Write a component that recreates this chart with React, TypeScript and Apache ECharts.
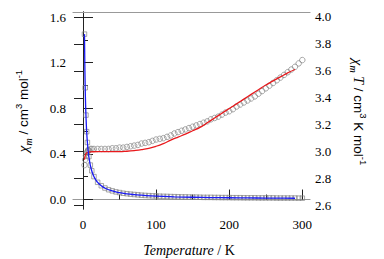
import React, { useEffect, useRef } from "react";
import * as echarts from "echarts";

// Measured temperatures (K)
const tempPts = [2, 3, 4, 5, 6, 7, 8, 10, 12, 15,
  20, 25, 30, 35, 40, 45, 50, 55, 60, 65,
  70, 75, 80, 85, 90, 95, 100, 105, 110, 115,
  120, 125, 130, 135, 140, 145, 150, 155, 160, 165,
  170, 175, 180, 185, 190, 195, 200, 205, 210, 215,
  220, 225, 230, 235, 240, 245, 250, 255, 260, 265,
  270, 275, 280, 285, 290, 295, 300];

// chi_m (cm3 mol-1), squares, left axis
const chiM = [1.45, 0.98, 0.74, 0.595, 0.5, 0.43, 0.376, 0.302, 0.252, 0.201,
  0.151, 0.121, 0.101, 0.086, 0.076, 0.067, 0.061, 0.055, 0.051, 0.047,
  0.044, 0.041, 0.038, 0.036, 0.034, 0.032, 0.031, 0.029, 0.028, 0.027,
  0.026, 0.025, 0.024, 0.023, 0.023, 0.022, 0.021, 0.021, 0.02, 0.019,
  0.019, 0.019, 0.018, 0.018, 0.017, 0.017, 0.017, 0.016, 0.016, 0.016,
  0.015, 0.015, 0.015, 0.015, 0.014, 0.014, 0.014, 0.014, 0.014, 0.013,
  0.013, 0.013, 0.013, 0.013, 0.013, 0.012, 0.012];

// chi_m T (cm3 K mol-1), circles, right axis
const chiMT = [2.9, 2.94, 2.97, 2.99, 3.0, 3.01, 3.01, 3.02, 3.02, 3.02,
  3.02, 3.02, 3.02, 3.02, 3.025, 3.025, 3.03, 3.03, 3.035, 3.04,
  3.045, 3.05, 3.06, 3.065, 3.07, 3.08, 3.09, 3.095, 3.1, 3.11,
  3.12, 3.135, 3.145, 3.155, 3.165, 3.175, 3.185, 3.195, 3.205, 3.215,
  3.225, 3.24, 3.25, 3.26, 3.275, 3.29, 3.3, 3.315, 3.335, 3.35,
  3.365, 3.38, 3.395, 3.41, 3.43, 3.45, 3.47, 3.49, 3.51, 3.53,
  3.55, 3.57, 3.59, 3.61, 3.63, 3.655, 3.68];

// Fit of chi_m (blue line)
const fitChiT = [2, 2.5, 3, 3.5, 4, 5, 6, 7, 8, 9, 10, 12, 14, 16, 18, 20, 25, 30, 40, 50,
  60, 70, 80, 100, 125, 150, 175, 200, 225, 250, 275, 290];
const fitChi = [1.45, 1.17, 0.98, 0.84, 0.74, 0.595, 0.5, 0.43, 0.375, 0.335, 0.3, 0.25, 0.215,
  0.188, 0.167, 0.15, 0.12, 0.1, 0.075, 0.06, 0.05, 0.043, 0.038, 0.03, 0.024, 0.02, 0.0175,
  0.0155, 0.014, 0.0128, 0.0118, 0.0113];

// Fit of chi_m T (red line)
const fitChiMTT = [2, 3, 4, 5, 6, 8, 10, 20, 30, 40, 50, 60, 70, 80, 90, 100, 110, 120, 130, 140,
  150, 160, 170, 180, 190, 200, 210, 220, 230, 240, 250, 260, 270, 280, 290];
const fitChiMT = [2.94, 2.97, 2.985, 2.99, 2.995, 2.997, 2.998, 3.0, 3.0, 3.0, 3.0, 3.003, 3.008,
  3.015, 3.025, 3.04, 3.06, 3.085, 3.108, 3.13, 3.155, 3.18, 3.215, 3.25, 3.285, 3.32, 3.355,
  3.39, 3.425, 3.46, 3.495, 3.525, 3.555, 3.585, 3.61];

const xMajor = [0, 100, 200, 300];
const xMinor = [50, 150, 250];
const yLeftMajor = [0, 0.4, 0.8, 1.2, 1.6];
const yLeftMinor = [0.2, 0.6, 1.0, 1.4];
const yRightTicks = [2.6, 2.8, 3.0, 3.2, 3.4, 3.6, 3.8, 4.0];

const SERIF = "Liberation Serif";
const SANS = "Liberation Sans";
const DARK = "#222";
const FRAME = "#999";
const MARK = "#858585";

const X_MIN = -13.7, X_MAX = 310.5;
const L_MIN = -0.083, L_MAX = 1.644;
const R_MIN = 2.574, R_MAX = 4.037;

export default function App() {
  const ref = useRef<HTMLDivElement>(null);
  useEffect(() => {
    if (!ref.current) return;
    const chart = echarts.init(ref.current, undefined, { renderer: "svg" });
    const zip = (a: number[], b: number[]) => a.map((v, i) => [v, b[i]]);
    const labelStyle = { color: "#000", fontFamily: SERIF, fontSize: 13 };
    const titleRich = {
      g: { fontFamily: SERIF, fontSize: 15, fontStyle: "italic", color: "#000" },
      sub: { fontFamily: SERIF, fontSize: 10, fontStyle: "italic", verticalAlign: "bottom", color: "#000" },
      it: { fontFamily: SERIF, fontSize: 14, fontStyle: "italic", color: "#000" },
      n: { fontFamily: SANS, fontSize: 13.5, color: "#000" },
      sup: { fontFamily: SANS, fontSize: 9.5, verticalAlign: "top", color: "#000" },
    };
    chart.setOption({
      animation: false,
      textStyle: { fontFamily: SERIF },
      grid: { left: 73, top: 12, right: 74, bottom: 50, containLabel: false },
      xAxis: [
        {
          type: "value", min: X_MIN, max: X_MAX, position: "bottom",
          axisLine: { show: true, lineStyle: { color: FRAME, width: 1.2 } },
          axisTick: { show: true, inside: true, length: 10, customValues: xMajor, lineStyle: { color: DARK, width: 1 } },
          axisLabel: { show: true, customValues: xMajor, margin: 9, ...labelStyle },
          splitLine: { show: false },
        },
        {
          type: "value", min: X_MIN, max: X_MAX, position: "bottom",
          axisLine: { show: false },
          axisTick: { show: true, inside: true, length: 5, customValues: xMinor, lineStyle: { color: DARK, width: 1 } },
          axisLabel: { show: false },
          splitLine: { show: false },
        },
        {
          type: "value", min: X_MIN, max: X_MAX, position: "top",
          axisLine: { show: true, lineStyle: { color: FRAME, width: 1.2 } },
          axisTick: { show: false }, axisLabel: { show: false }, splitLine: { show: false },
        },
      ],
      yAxis: [
        {
          type: "value", min: L_MIN, max: L_MAX, position: "left",
          axisLine: { show: true, lineStyle: { color: DARK, width: 1 } },
          axisTick: { show: true, inside: true, length: 10, customValues: yLeftMajor, lineStyle: { color: DARK, width: 1 } },
          axisLabel: { show: true, customValues: yLeftMajor, margin: 7, formatter: (v: number) => v.toFixed(1), ...labelStyle },
          splitLine: { show: false },
        },
        {
          type: "value", min: R_MIN, max: R_MAX, position: "right",
          axisLine: { show: true, lineStyle: { color: DARK, width: 1 } },
          axisTick: { show: true, inside: true, length: 9, customValues: yRightTicks, lineStyle: { color: DARK, width: 1 } },
          axisLabel: { show: true, customValues: yRightTicks, margin: 5, formatter: (v: number) => v.toFixed(1), ...labelStyle },
          splitLine: { show: false },
        },
        {
          type: "value", min: L_MIN, max: L_MAX, position: "left",
          axisLine: { show: false },
          axisTick: { show: true, inside: true, length: 5, customValues: yLeftMinor, lineStyle: { color: DARK, width: 1 } },
          axisLabel: { show: false },
          splitLine: { show: false },
        },
      ],
      series: [
        {
          type: "scatter", xAxisIndex: 0, yAxisIndex: 1, symbol: "circle", symbolSize: 5.5,
          data: zip(tempPts, chiMT),
          itemStyle: { color: "rgba(255,255,255,0)", borderColor: MARK, borderWidth: 0.9 },
          z: 2,
        },
        {
          type: "scatter", xAxisIndex: 0, yAxisIndex: 0, symbol: "rect", symbolSize: 4.5,
          data: zip(tempPts, chiM),
          itemStyle: { color: "rgba(255,255,255,0)", borderColor: MARK, borderWidth: 0.9 },
          z: 2,
        },
        {
          type: "line", xAxisIndex: 0, yAxisIndex: 1, showSymbol: false, smooth: true,
          data: zip(fitChiMTT, fitChiMT),
          lineStyle: { color: "#e8191c", width: 1.3 },
          z: 3,
        },
        {
          type: "line", xAxisIndex: 0, yAxisIndex: 0, showSymbol: false, smooth: true,
          data: zip(fitChiT, fitChi),
          lineStyle: { color: "#1a1af5", width: 1.3 },
          z: 3,
        },
      ],
      graphic: [
        {
          type: "text", x: 23, y: 111, rotation: Math.PI / 2,
          style: {
            text: "{g|χ}{sub|m}{n| / cm}{sup|3}{n| mol}{sup|-1}",
            rich: titleRich, align: "center", verticalAlign: "middle", lineHeight: 20,
          },
        },
        {
          type: "text", x: 358, y: 112, rotation: -Math.PI / 2,
          style: {
            text: "{g|χ}{sub|m}{it| T}{n| / cm}{sup|3}{n| K mol}{sup|-1}",
            rich: titleRich, align: "center", verticalAlign: "middle", lineHeight: 20,
          },
        },
        {
          type: "text", x: 189, y: 250,
          style: {
            text: "{it|Temperature}{r| / K}",
            rich: {
              it: { fontFamily: SERIF, fontSize: 14, fontStyle: "italic", color: "#000" },
              r: { fontFamily: SERIF, fontSize: 14, color: "#000" },
            },
            align: "center", verticalAlign: "middle",
          },
        },
      ],
    });
    return () => chart.dispose();
  }, []);
  return <div ref={ref} style={{ position: "absolute", left: 0, top: 0, width: 384, height: 259 }} />;
}
